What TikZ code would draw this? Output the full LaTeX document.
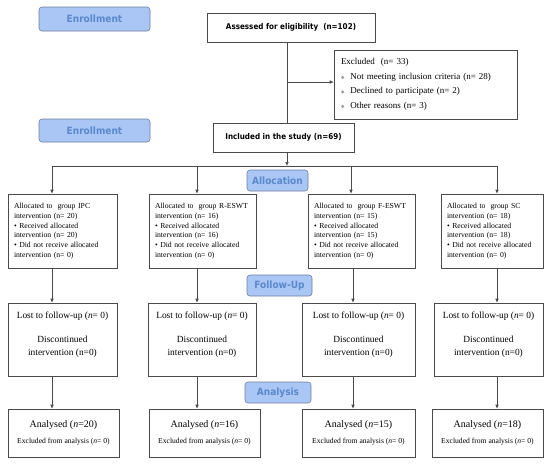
\documentclass[tikz,border=0pt]{standalone}
\usepackage{fontspec}
\setmainfont{Liberation Serif}
\newfontfamily\hdrfont{DejaVu Sans Condensed}
\usetikzlibrary{arrows.meta}
\definecolor{hdrfill}{HTML}{A9C6F5}
\definecolor{hdrline}{HTML}{6F7F9F}
\definecolor{hdrtext}{HTML}{5B88CC}
\definecolor{boxline}{HTML}{4A4A4A}
\definecolor{bulgray}{HTML}{A0A0A0}
\newcommand{\graybul}{\raisebox{0.3pt}{\tikz\fill[bulgray] (0,0) circle (1.7pt);}}
\begin{document}
\begin{tikzpicture}[x=1pt,y=-1pt,
  hdr/.style={draw=hdrline, fill=hdrfill, rounded corners=3pt, text=hdrtext,
    font=\hdrfont\bfseries\fontsize{10}{11}\selectfont, inner sep=0pt, line width=0.6pt},
  box/.style={draw=boxline, line width=0.6pt, inner sep=0pt, fill=white},
  boldtxt/.style={font=\hdrfont\bfseries\fontsize{8}{9}\selectfont},
  alloctxt/.style={align=left, font=\fontsize{7.7}{9.7}\selectfont},
  lostbox/.style={box, minimum height=73pt},
  anbox/.style={box, minimum height=48pt, align=center, font=\fontsize{10}{11}\selectfont},
  arr/.style={draw=boxline, line width=0.6pt, -{Latex[length=4pt,width=3.6pt]}},
  ln/.style={draw=boxline, line width=0.6pt}]
\useasboundingbox (0,0) rectangle (550,464);
\fill[white] (0,0) rectangle (550,464);

% headers
\node[hdr, minimum width=111pt, minimum height=24pt] (enr1) at (94.5,19) {Enrollment};
\node[hdr, minimum width=111pt, minimum height=23pt] (enr2) at (94.5,130.5) {Enrollment};
\node[hdr, minimum width=61pt, minimum height=21pt] (alloc) at (277.5,180.5) {Allocation};
\node[hdr, minimum width=65pt, minimum height=21pt] (fol) at (279.5,285.5) {Follow-Up};
\node[hdr, minimum width=66pt, minimum height=21pt] (ana) at (278,392.5) {Analysis};

% top boxes
\node[box, boldtxt, minimum width=168pt, minimum height=29pt] (ass) at (291,27.5) {Assessed for eligibility\ \ (n=102)};
\node[box, minimum width=183pt, minimum height=69pt, text width=169pt, align=left,
  font=\fontsize{9}{14.5}\selectfont] (excl) at (425.5,84.5)
  {Excluded\ \ (n= 33)\\
   \graybul\ \ Not meeting inclusion criteria (n= 28)\\
   \graybul\ \ Declined to participate (n= 2)\\
   \graybul\ \ Other reasons (n= 3)};
\node[box, boldtxt, minimum width=141pt, minimum height=29pt] (inc) at (283.5,137.5) {Included in the study (n=69)};

% allocation boxes
\node[box, minimum width=109pt, minimum height=74pt, text width=97pt, alloctxt] (a1) at (62.5,231)
  {Allocated to\ \ group IPC\\ intervention (n= 20)\\ \textbullet\ Received allocated\\ intervention (n= 20)\\ \textbullet\ Did not receive allocated\\ intervention (n= 0)};
\node[box, minimum width=107pt, minimum height=74pt, text width=95pt, alloctxt] (a2) at (202.5,231)
  {Allocated to\ \ group R-ESWT\\ intervention (n= 16)\\ \textbullet\ Received allocated\\ intervention (n= 16)\\ \textbullet\ Did not receive allocated\\ intervention (n= 0)};
\node[box, minimum width=107pt, minimum height=74pt, text width=95pt, alloctxt] (a3) at (361.5,231)
  {Allocated to\ \ group F-ESWT\\ intervention (n= 15)\\ \textbullet\ Received allocated\\ intervention (n= 15)\\ \textbullet\ Did not receive allocated\\ intervention (n= 0)};
\node[box, minimum width=102pt, minimum height=74pt, text width=90pt, alloctxt] (a4) at (492,231)
  {Allocated to\ \ group SC\\ intervention (n= 18)\\ \textbullet\ Received allocated\\ intervention (n= 18)\\ \textbullet\ Did not receive allocated\\ intervention (n= 0)};

% follow-up boxes
\node[lostbox, minimum width=109pt] (l1) at (62.5,339.5) {};
\node[lostbox, minimum width=108pt] (l2) at (202,339.5) {};
\node[lostbox, minimum width=113pt] (l3) at (358.5,339.5) {};
\node[lostbox, minimum width=109pt] (l4) at (488.5,339.5) {};
\foreach \b in {l1,l2,l3,l4}{
  \node[align=center, font=\fontsize{9.4}{13}\selectfont] (\b t) at ([yshift=5pt]\b.center)
    {Lost to follow-up (\textit{n}= 0)\\[11pt] Discontinued\\ intervention (n=0)};
}

% analysis boxes
\node[anbox, minimum width=111pt] (an1) at (63.5,433) {Analysed (\textit{n}=20)\\[5pt]{\fontsize{7.6}{8}\selectfont Excluded from analysis (\textit{n}= 0)}};
\node[anbox, minimum width=111pt] (an2) at (204.5,433) {Analysed (\textit{n}=16)\\[5pt]{\fontsize{7.6}{8}\selectfont Excluded from analysis (\textit{n}= 0)}};
\node[anbox, minimum width=113pt] (an3) at (358.5,433) {Analysed (\textit{n}=15)\\[5pt]{\fontsize{7.6}{8}\selectfont Excluded from analysis (\textit{n}= 0)}};
\node[anbox, minimum width=111pt] (an4) at (487.5,433) {Analysed (\textit{n}=18)\\[5pt]{\fontsize{7.6}{8}\selectfont Excluded from analysis (\textit{n}= 0)}};

% connectors top
\coordinate (sp) at (287,42);
\coordinate (br) at (287,82);
\draw[ln] (sp) -- (sp |- inc.north);
\draw[arr] (br) -- (br -| excl.west);
\coordinate (ib) at (287,152);
\coordinate (hl) at (287,166);
\draw[arr] (ib) -- (hl);
\coordinate (j1) at (52,166);
\coordinate (j2) at (197,166);
\coordinate (j3) at (351,166);
\coordinate (j4) at (497,166);
\draw[ln] (j1) -- (j4);
\draw[arr] (j1) -- (j1 |- a1.north);
\draw[arr] (j2) -- (j2 |- a2.north);
\draw[arr] (j3) -- (j3 |- a3.north);
\draw[arr] (j4) -- (j4 |- a4.north);

% column connectors
\coordinate (c1) at (52,0);
\coordinate (c2) at (197,0);
\coordinate (c3) at (353,0);
\coordinate (c4) at (497,0);
\draw[arr] (c1 |- a1.south) -- (c1 |- l1.north);
\draw[arr] (c2 |- a2.south) -- (c2 |- l2.north);
\draw[arr] (c3 |- a3.south) -- (c3 |- l3.north);
\draw[arr] (c4 |- a4.south) -- (c4 |- l4.north);
\draw[arr] (c1 |- l1.south) -- (c1 |- an1.north);
\draw[arr] (c2 |- l2.south) -- (c2 |- an2.north);
\draw[arr] (c3 |- l3.south) -- (c3 |- an3.north);
\draw[arr] (c4 |- l4.south) -- (c4 |- an4.north);
\end{tikzpicture}
\end{document}
